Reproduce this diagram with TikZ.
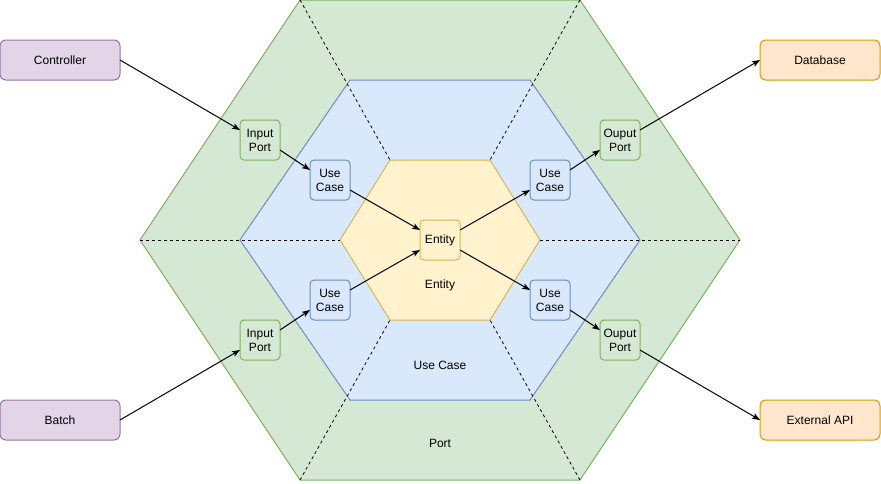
\documentclass[tikz,border=0pt]{standalone}
\usepackage{fontspec}
\setmainfont{Liberation Sans}
\usetikzlibrary{arrows.meta,calc}
\definecolor{gfill}{HTML}{D5E8D4}\definecolor{gline}{HTML}{82B366}
\definecolor{bfill}{HTML}{DAE8FC}\definecolor{bline}{HTML}{6C8EBF}
\definecolor{yfill}{HTML}{FFF2CC}\definecolor{yline}{HTML}{D6B656}
\definecolor{pfill}{HTML}{E1D5E7}\definecolor{pline}{HTML}{9673A6}
\definecolor{ofill}{HTML}{FFE6CC}\definecolor{oline}{HTML}{D79B00}
\tikzset{
  base/.style={draw,line width=1pt,rounded corners=4pt,inner sep=0pt,outer sep=0pt,align=center,font=\fontsize{12}{14}\selectfont},
  small/.style={base,minimum width=40pt,minimum height=40pt},
  big/.style={base,rounded corners=6pt,minimum width=120pt,minimum height=40pt},
  gbox/.style={small,fill=gfill,draw=gline},
  bbox/.style={small,fill=bfill,draw=bline},
  ybox/.style={small,fill=yfill,draw=yline},
  pbox/.style={big,fill=pfill,draw=pline},
  obox/.style={big,fill=ofill,draw=oline},
  arr/.style={line width=1pt,-{Stealth[length=8pt,width=6pt,inset=2pt]}},
  sepline/.style={line width=0.8pt,dash pattern=on 3pt off 3pt},
  lbl/.style={font=\fontsize{12}{14}\selectfont}
}
\newcommand{\lpt}[2]{($(#1.north west)!#2!(#1.south west)$)}
\newcommand{\rpt}[2]{($(#1.north east)!#2!(#1.south east)$)}
\begin{document}
\begin{tikzpicture}[x=1pt,y=-1pt]
\useasboundingbox (0,0) rectangle (881,483);
% hexagons
\draw[fill=gfill,draw=gline,line width=1pt] (140,240) -- (300,0) -- (580,0) -- (740,240) -- (580,480) -- (300,480) -- cycle;
\draw[fill=bfill,draw=bline,line width=1pt] (240,240) -- (350,80) -- (530,80) -- (640,240) -- (530,400) -- (350,400) -- cycle;
\draw[fill=yfill,draw=yline,line width=1pt] (340,240) -- (390,160) -- (490,160) -- (540,240) -- (490,320) -- (390,320) -- cycle;
% dashed separators
\draw[sepline] (300,0) -- (390,160);
\draw[sepline] (580,0) -- (490,160);
\draw[sepline] (300,480) -- (390,320);
\draw[sepline] (580,480) -- (490,320);
\draw[sepline] (140,240) -- (340,240);
\draw[sepline] (540,240) -- (740,240);
% layer labels
\node[lbl] (lent) at (440,285) {Entity};
\node[lbl] (luc) at (440,365) {Use Case};
\node[lbl] (lport) at (440,443) {Port};
% boxes
\node[pbox] (ctrl) at (60,60) {Controller};
\node[pbox] (batch) at (60,420) {Batch};
\node[obox] (db) at (820,60) {Database};
\node[obox] (api) at (820,420) {External API};
\node[gbox] (ip1) at (260,140) {Input\\Port};
\node[gbox] (ip2) at (260,340) {Input\\Port};
\node[gbox] (op1) at (620,140) {Ouput\\Port};
\node[gbox] (op2) at (620,340) {Ouput\\Port};
\node[bbox] (uc1) at (330,180) {Use\\Case};
\node[bbox] (uc2) at (330,300) {Use\\Case};
\node[bbox] (uc3) at (550,180) {Use\\Case};
\node[bbox] (uc4) at (550,300) {Use\\Case};
\node[ybox] (ent) at (440,240) {Entity};
% connectors
\draw[arr] (ctrl.east) -- \lpt{ip1}{0.25};
\draw[arr] \rpt{ip1}{0.75} -- \lpt{uc1}{0.25};
\draw[arr] \rpt{uc1}{0.75} -- \lpt{ent}{0.25};
\draw[arr] (batch.east) -- \lpt{ip2}{0.75};
\draw[arr] \rpt{ip2}{0.25} -- \lpt{uc2}{0.75};
\draw[arr] \rpt{uc2}{0.25} -- \lpt{ent}{0.75};
\draw[arr] \rpt{ent}{0.25} -- \lpt{uc3}{0.75};
\draw[arr] \rpt{uc3}{0.25} -- \lpt{op1}{0.75};
\draw[arr] \rpt{op1}{0.25} -- (db.west);
\draw[arr] \rpt{ent}{0.75} -- \lpt{uc4}{0.25};
\draw[arr] \rpt{uc4}{0.75} -- \lpt{op2}{0.25};
\draw[arr] \rpt{op2}{0.75} -- (api.west);
\end{tikzpicture}
\end{document}
